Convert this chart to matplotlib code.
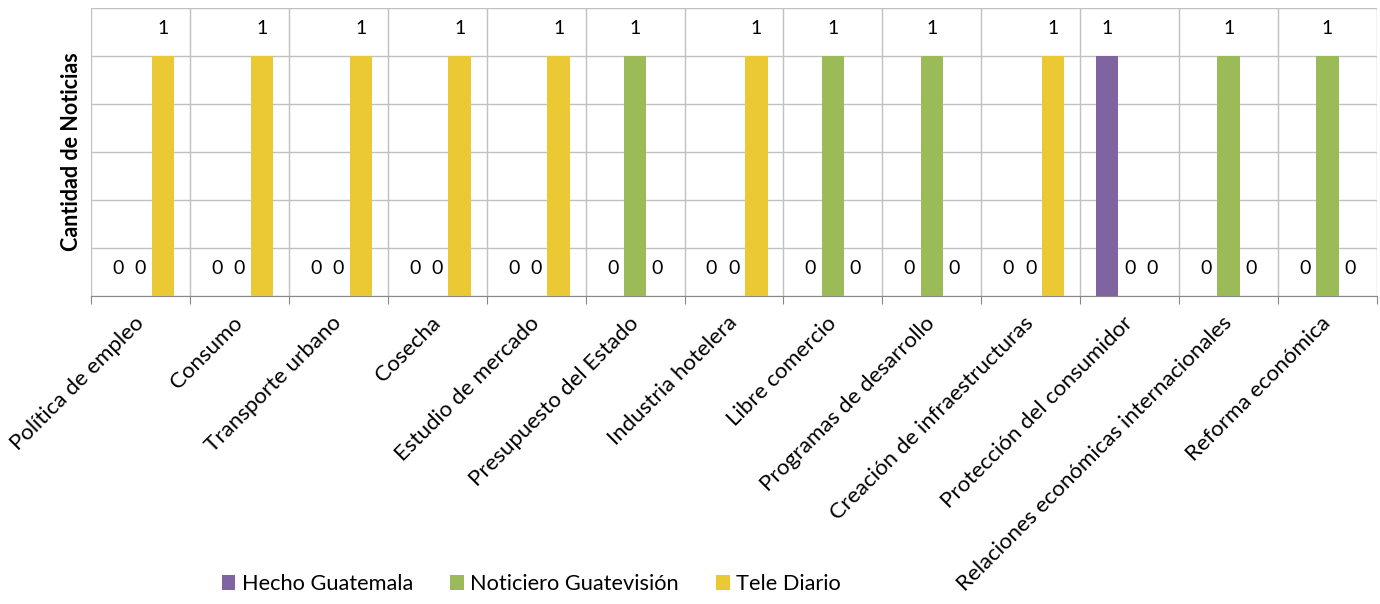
import numpy as np
import matplotlib
matplotlib.use("Agg")
import matplotlib.pyplot as plt

plt.rcParams['font.family'] = ['Lato', 'DejaVu Sans']

# temas y cantidad de noticias por noticiero
temas = ["Política de empleo", "Consumo", "Transporte urbano", "Cosecha",
         "Estudio de mercado", "Presupuesto del Estado", "Industria hotelera",
         "Libre comercio", "Programas de desarrollo", "Creación de infraestructuras",
         "Protección del consumidor", "Relaciones económicas internacionales",
         "Reforma económica"]
hecho_guatemala = [0, 0, 0, 0, 0, 0, 0, 0, 0, 0, 1, 0, 0]
noticiero_guatevision = [0, 0, 0, 0, 0, 1, 0, 1, 1, 0, 0, 1, 1]
tele_diario = [1, 1, 1, 1, 1, 0, 1, 0, 0, 1, 0, 0, 0]

series = [("Hecho Guatemala", hecho_guatemala, "#8064A2"),
          ("Noticiero Guatevisión", noticiero_guatevision, "#9BBB59"),
          ("Tele Diario", tele_diario, "#EBC935")]

fig = plt.figure(figsize=(13.8, 6.04), dpi=100)
ax = fig.add_axes([91/1380, 1 - 296/604, (1377-91)/1380, (296-8)/604])

x = np.arange(len(temas))
w = 0.227
for i, (nombre, vals, col) in enumerate(series):
    pos = x + (i - 1) * w
    ax.bar(pos, vals, width=w, color=col, label=nombre, zorder=3)
    for px, v in zip(pos, vals):
        ax.annotate(str(v), (px, v), xytext=(0, 19.5), textcoords='offset points',
                    ha='center', va='center', fontsize=14, color='black')

ax.set_xlim(-0.5, len(temas) - 0.5)
ax.set_ylim(0, 1.2)
ax.set_yticks(np.arange(0, 1.21, 0.2))
ax.set_yticklabels([])
ax.tick_params(axis='y', length=0)
ax.grid(axis='y', color='#C0C0C0', lw=1, zorder=0)

# lineas verticales entre categorias
for b in np.arange(-0.5, len(temas), 1.0):
    ax.axvline(b, color='#C0C0C0', lw=1, zorder=0)

ax.set_xticks(np.arange(-0.5, len(temas), 1.0), minor=False)
ax.set_xticklabels([])
ax.tick_params(axis='x', direction='out', length=6, color='#888888')
for i, t in enumerate(temas):
    ax.text(i - 0.07, -0.07, t, rotation=45, ha='right', va='top',
            rotation_mode='anchor', fontsize=16, transform=ax.transData)

for s in ['top', 'right', 'left']:
    ax.spines[s].set_visible(False)
ax.spines['bottom'].set_color('#888888')

fig.text(72/1380, 1 - 152/604, "Cantidad de Noticias", rotation=90,
         ha='center', va='center', fontsize=15.5, fontweight='bold')

fig.legend(loc='center', bbox_to_anchor=(531/1380, 1 - 584/604), ncol=3,
           frameon=False, fontsize=15.7, handlelength=0.64, handleheight=0.64,
           handletextpad=0.28, columnspacing=1.7, borderpad=0, borderaxespad=0)

fig.savefig("out.png", dpi=100)
